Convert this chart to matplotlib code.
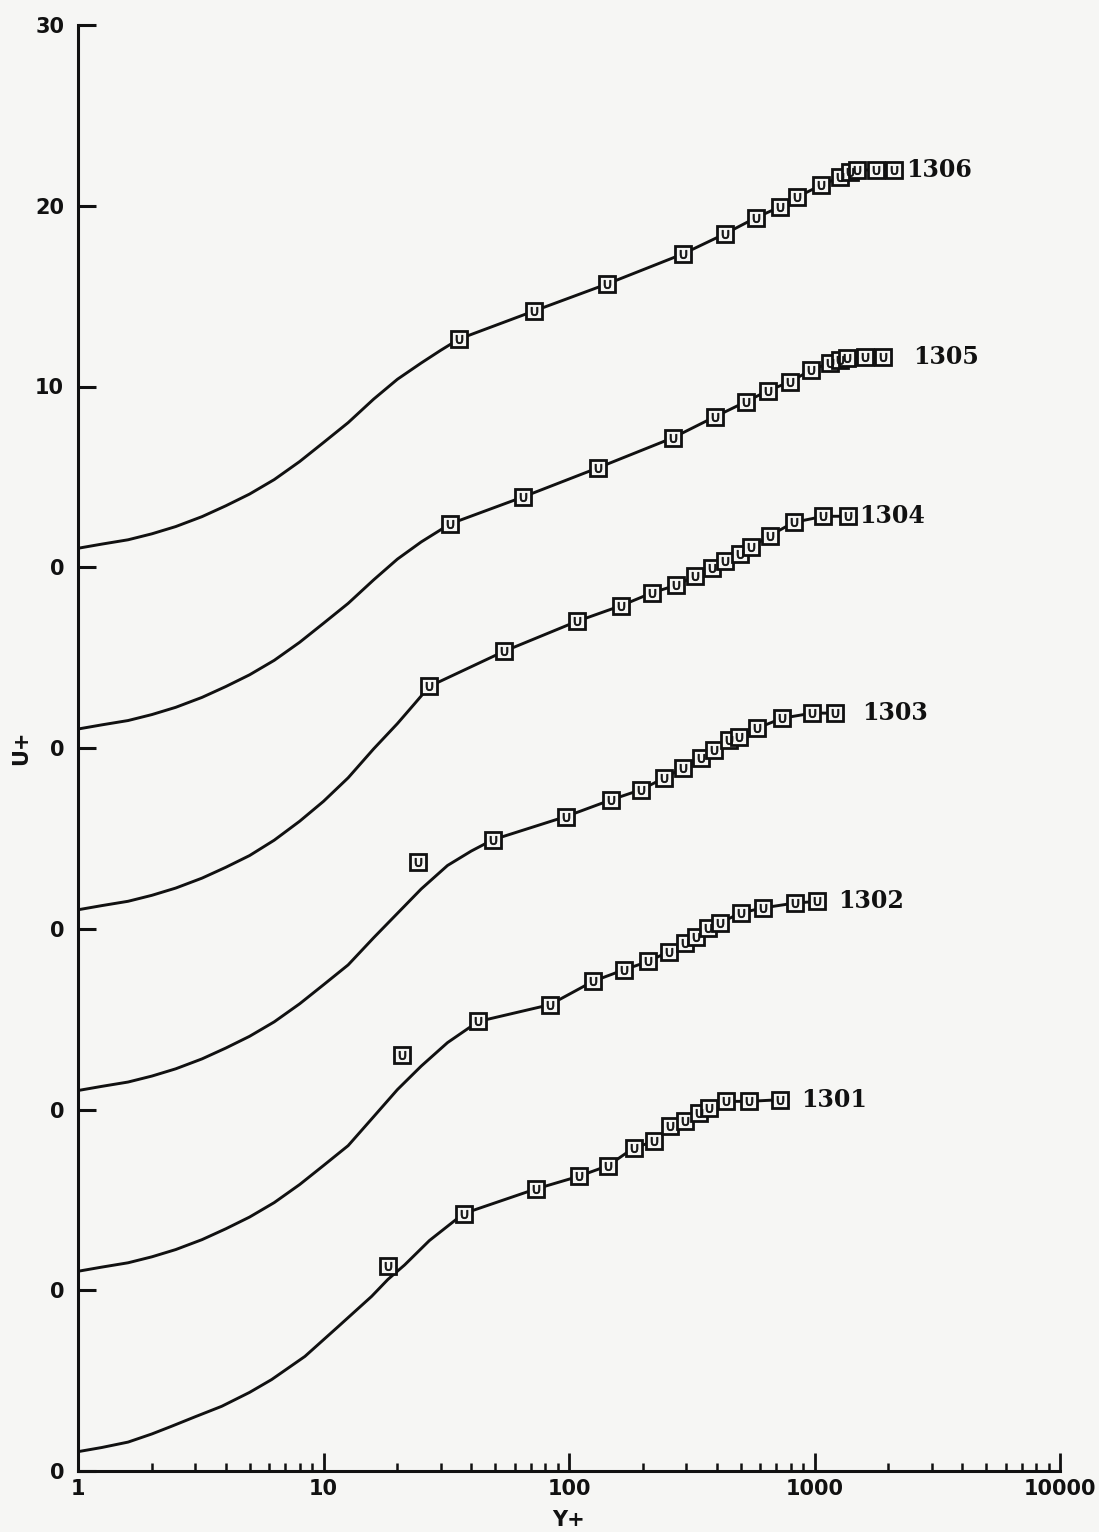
import matplotlib
matplotlib.use("Agg")
import matplotlib.pyplot as plt

# ---------------- data: velocity profiles in wall coordinates ----------------
stations = ["1301", "1302", "1303", "1304", "1305", "1306"]
shifts = [-50, -40, -30, -20, -10, 0]          # vertical shift of each profile

# measured points (y+, U+)
yp_1306 = [35.7, 72.1, 142.7, 290.6, 430.6, 575.8, 720.8, 852.5, 1067, 1276, 1400, 1496, 1786, 2115]
up_1306 = [12.63, 14.18, 15.67, 17.33, 18.44, 19.33, 19.93, 20.49, 21.15, 21.59, 21.87, 21.98, 21.98, 21.98]

yp_1305 = [32.8, 65.0, 131.2, 264.7, 392, 524.5, 644, 791, 972, 1161, 1276, 1362, 1611, 1907]
up_1305 = [12.40, 13.89, 15.50, 17.16, 18.32, 19.15, 19.76, 20.25, 20.92, 21.31, 21.47, 21.58, 21.64, 21.64]

yp_1304 = [27.0, 54.4, 107.8, 162.7, 217.4, 272.3, 325, 381, 430, 495.6, 549.5, 656, 821.7, 1088, 1374]
up_1304 = [13.41, 15.35, 17.01, 17.87, 18.58, 19.00, 19.50, 19.97, 20.33, 20.74, 21.10, 21.74, 22.48, 22.82, 22.82]

yp_1303 = [24.3, 48.9, 97.2, 148.2, 196.3, 244, 290, 344, 389.8, 448.4, 492.5, 585, 739.5, 979.5, 1217]
up_1303 = [13.72, 14.92, 16.21, 17.13, 17.69, 18.34, 18.89, 19.44, 19.90, 20.45, 20.60, 21.10, 21.65, 21.93, 21.93]

yp_1302 = [20.9, 42.7, 83.7, 125.2, 167.4, 210.4, 255.1, 296.4, 328.2, 367.3, 411, 500, 614.8, 829, 1019]
up_1302 = [13.03, 14.87, 15.80, 17.09, 17.73, 18.19, 18.74, 19.21, 19.57, 20.04, 20.32, 20.87, 21.15, 21.42, 21.51]

yp_1301 = [18.3, 37.2, 73.1, 109.4, 144.1, 183.3, 222.4, 257, 297.2, 337.5, 372.5, 437.5, 539.6, 720.8]
up_1301 = [11.36, 14.24, 15.60, 16.30, 16.89, 17.87, 18.24, 19.07, 19.34, 19.81, 20.08, 20.45, 20.45, 20.54]

# near-wall part of each computed profile (y+, U+)
wall_yp_1306 = [1.0, 1.25, 1.6, 2.0, 2.5, 3.2, 4.0, 5.0, 6.3, 8.0, 10.0, 12.6, 16.0, 20.0, 25.0, 30.0]
wall_up_1306 = [1.05, 1.28, 1.52, 1.85, 2.25, 2.8, 3.4, 4.05, 4.85, 5.85, 6.9, 8.0, 9.3, 10.4, 11.3, 12.0]

wall_yp_1305 = [1.0, 1.25, 1.6, 2.0, 2.5, 3.2, 4.0, 5.0, 6.3, 8.0, 10.0, 12.6, 16.0, 20.0, 25.0]
wall_up_1305 = [1.05, 1.28, 1.52, 1.85, 2.25, 2.8, 3.4, 4.05, 4.85, 5.85, 6.9, 8.0, 9.3, 10.45, 11.4]

wall_yp_1304 = [1.0, 1.25, 1.6, 2.0, 2.5, 3.2, 4.0, 5.0, 6.3, 8.0, 10.0, 12.6, 16.0, 20.0, 23.5]
wall_up_1304 = [1.05, 1.28, 1.52, 1.85, 2.25, 2.8, 3.4, 4.05, 4.9, 5.95, 7.05, 8.35, 9.95, 11.35, 12.45]

wall_yp_1303 = [1.0, 1.25, 1.6, 2.0, 2.5, 3.2, 4.0, 5.0, 6.3, 8.0, 10.0, 12.6, 16.0, 20.0, 25.0, 32.0, 40.0]
wall_up_1303 = [1.05, 1.28, 1.52, 1.85, 2.25, 2.8, 3.4, 4.05, 4.85, 5.85, 6.9, 8.0, 9.5, 10.85, 12.2, 13.5, 14.3]

wall_yp_1302 = [1.0, 1.25, 1.6, 2.0, 2.5, 3.2, 4.0, 5.0, 6.3, 8.0, 10.0, 12.6, 16.0, 20.0, 25.0, 32.0]
wall_up_1302 = [1.05, 1.28, 1.52, 1.85, 2.25, 2.8, 3.4, 4.05, 4.85, 5.85, 6.9, 8.0, 9.6, 11.1, 12.4, 13.7]

wall_yp_1301 = [1.0, 1.25, 1.6, 2.0, 2.4, 3.0, 3.85, 5.0, 6.15, 8.4, 11.5, 15.7, 18.3, 21.4, 27.0]
wall_up_1301 = [1.07, 1.3, 1.6, 2.05, 2.47, 3.0, 3.58, 4.35, 5.06, 6.34, 8.0, 9.66, 10.6, 11.4, 12.75]

# first measured point of these stations lies off the computed curve
off_curve = {"1303": 1, "1302": 1, "1301": 1}

xticks = [1, 10, 100, 1000, 10000]
xtick_labels = ["1", "10", "100", "1000", "10000"]
yticks = [30, 20, 10, 0, -10, -20, -30, -40, -50]
ytick_labels = ["30", "20", "10", "0", "0", "0", "0", "0", "0"]

measured = {
    "1306": (yp_1306, up_1306), "1305": (yp_1305, up_1305), "1304": (yp_1304, up_1304),
    "1303": (yp_1303, up_1303), "1302": (yp_1302, up_1302), "1301": (yp_1301, up_1301),
}
near_wall = {
    "1306": (wall_yp_1306, wall_up_1306), "1305": (wall_yp_1305, wall_up_1305),
    "1304": (wall_yp_1304, wall_up_1304), "1303": (wall_yp_1303, wall_up_1303),
    "1302": (wall_yp_1302, wall_up_1302), "1301": (wall_yp_1301, wall_up_1301),
}
label_gap_px = {"1306": 12, "1305": 30, "1304": 11, "1303": 27, "1302": 22, "1301": 22}

# ---------------- figure ----------------
W, H, DPI = 1099, 1532, 100
bg = "#f6f6f4"
fig = plt.figure(figsize=(W / DPI, H / DPI), dpi=DPI, facecolor=bg)
left, right = 78 / W, 1060 / W
bottom, top = 1 - 1471 / H, 1 - 25 / H
ax = fig.add_axes([left, bottom, right - left, top - bottom], facecolor=bg)

ax.set_xscale("log")
ax.set_xlim(1, 10000)
ax.set_ylim(-50, 30)

ink = "#111111"
for name, shift in zip(stations, shifts):
    yp, up = measured[name]
    wyp, wup = near_wall[name]
    skip = off_curve.get(name, 0)
    cx = list(wyp) + list(yp[skip:])
    cy = [u + shift for u in list(wup) + list(up[skip:])]
    ax.plot(cx, cy, color=ink, lw=2.1, solid_capstyle="round", solid_joinstyle="round", zorder=2)
    uy = [u + shift for u in up]
    ax.plot(yp, uy, ls="none", marker="s", ms=11, mfc=bg, mec=ink, mew=2.0, zorder=3)
    ax.plot(yp, uy, ls="none", marker=r"$\cup$", ms=6, mfc=ink, mec=ink, mew=0.6, zorder=4)
    ax.annotate(name, xy=(yp[-1], uy[-1]), xytext=(label_gap_px[name] * 72 / DPI, 0),
                textcoords="offset points", ha="left", va="center",
                fontsize=17, family="DejaVu Serif", fontweight="bold", color=ink)

# axes styling
for s in ("top", "right"):
    ax.spines[s].set_visible(False)
for s in ("left", "bottom"):
    ax.spines[s].set_linewidth(2.2)
    ax.spines[s].set_color(ink)

ax.set_xticks(xticks)
ax.set_xticklabels(xtick_labels)
ax.set_yticks(yticks)
ax.set_yticklabels(ytick_labels)
ax.tick_params(axis="y", direction="in", length=13, width=2.2, pad=10,
               labelsize=15, colors=ink)
ax.tick_params(axis="x", which="major", direction="in", length=13, width=2.0, pad=6,
               labelsize=15, colors=ink)
ax.tick_params(axis="x", which="minor", direction="in", length=6, width=1.8, colors=ink)
for lab in ax.get_xticklabels() + ax.get_yticklabels():
    lab.set_fontweight("bold")

ax.set_xlabel("Y+", fontsize=15, fontweight="bold", color=ink, labelpad=8)
ax.set_ylabel("U+", fontsize=15, fontweight="bold", color=ink)
ax.yaxis.set_label_coords(-0.048, 0.5)

fig.savefig("out.png", dpi=DPI, facecolor=bg)
